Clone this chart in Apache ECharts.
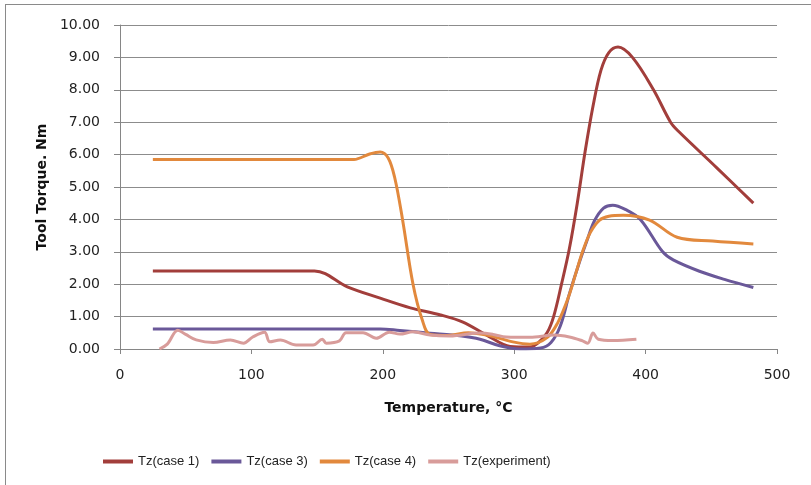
<!DOCTYPE html>
<html lang="en">
<head>
    <meta charset="UTF-8">
    <title>Tool torque vs temperature</title>
    <script src="https://cdn.jsdelivr.net/npm/echarts/dist/echarts.min.js"></script>
    <style>
        html, body { margin: 0; padding: 0; background: #fff; }
        #chart { width: 811px; height: 485px; }
    </style>
</head>
<body>
<div id="chart"></div>
<script>
    // values: [temperature, torque]
    var case1 = [[25, 2.41], [148, 2.41], [173, 1.92], [198, 1.57], [221, 1.27], [244, 1.05], [261, 0.83],
        [279, 0.43], [297, 0.08], [312, 0.06], [318, 0.18], [325, 0.5], [330, 1.0], [336, 2.0], [342, 3.1],
        [348, 4.5], [354, 6.1], [360, 7.5], [366, 8.6], [372, 9.15], [379, 9.32], [390, 9.0], [406, 8.0],
        [419, 7.0], [425, 6.72], [454, 5.6], [482, 4.5]];
    var case3 = [[25, 0.62], [198, 0.62], [213, 0.57], [236, 0.49], [260, 0.4], [274, 0.3], [289, 0.1],
        [304, 0.0], [320, 0.03], [328, 0.2], [335, 0.7], [342, 1.7], [349, 2.6], [355, 3.3], [361, 3.95],
        [368, 4.35], [375, 4.44], [385, 4.3], [396, 4.0], [413, 3.0], [421, 2.75], [441, 2.4], [460, 2.15],
        [482, 1.9]];
    var case4 = [[25, 5.85], [178, 5.85], [190, 6.02], [198, 6.08], [204, 5.9], [209, 5.3], [215, 4.0],
        [223, 2.0], [230, 0.9], [236, 0.45], [250, 0.42], [265, 0.5], [280, 0.42], [299, 0.22], [312, 0.15],
        [325, 0.35], [333, 0.8], [341, 1.57], [347, 2.35], [352, 3.0], [358, 3.6], [365, 3.98], [372, 4.1],
        [383, 4.13], [403, 3.98], [424, 3.45], [451, 3.33], [482, 3.24]];
    var experiment = [[30, 0.0], [36, 0.15], [44, 0.58], [50, 0.45], [58, 0.28], [71, 0.2], [84, 0.28],
        [94, 0.18], [101, 0.37], [110, 0.52], [114, 0.22], [122, 0.28], [134, 0.12], [147, 0.12], [154, 0.3],
        [157, 0.18], [167, 0.25], [172, 0.5], [185, 0.5], [195, 0.33], [205, 0.52], [213, 0.46], [223, 0.53],
        [236, 0.43], [251, 0.4], [274, 0.49], [284, 0.45], [294, 0.37], [312, 0.36], [330, 0.43], [342, 0.37],
        [352, 0.25], [356, 0.18], [360, 0.49], [364, 0.3], [375, 0.26], [393, 0.3]];

    var seriesNames = ['Tz(case 1)', 'Tz(case 3)', 'Tz(case 4)', 'Tz(experiment)'];
    var seriesData = [case1, case3, case4, experiment];
    var colors = ['#A23E3B', '#6A5899', '#E2893D', '#D89C9A'];

    var chart = echarts.init(document.getElementById('chart'));

    var series = seriesNames.map(function (name, i) {
        return {
            name: name,
            type: 'line',
            data: seriesData[i],
            smooth: 0.35,
            showSymbol: false,
            lineStyle: { width: 3, color: colors[i] },
            itemStyle: { color: colors[i] }
        };
    });

    chart.setOption({
        animation: false,
        textStyle: { fontFamily: 'DejaVu Sans' },
        grid: { left: 120, right: 34, top: 25, bottom: 136 },
        graphic: [
            { type: 'line', shape: { x1: 5, y1: 4.5, x2: 811, y2: 4.5 }, style: { stroke: '#8a8a8a', lineWidth: 1 } },
            { type: 'line', shape: { x1: 5.5, y1: 4, x2: 5.5, y2: 485 }, style: { stroke: '#8a8a8a', lineWidth: 1 } }
        ],
        xAxis: {
            type: 'value',
            min: 0,
            max: 500,
            interval: 100,
            name: 'Temperature, °C',
            nameLocation: 'middle',
            nameGap: 52,
            nameTextStyle: { fontFamily: 'DejaVu Sans', fontWeight: 'bold', fontSize: 14, color: '#111' },
            axisLine: { lineStyle: { color: '#868686' } },
            axisTick: { show: true, length: 5, lineStyle: { color: '#868686' } },
            axisLabel: { fontSize: 14, color: '#222', margin: 19 },
            splitLine: { show: false }
        },
        yAxis: {
            type: 'value',
            min: 0,
            max: 10,
            interval: 1,
            name: 'Tool Torque. Nm',
            nameLocation: 'middle',
            nameGap: 70,
            nameTextStyle: { fontFamily: 'DejaVu Sans', fontWeight: 'bold', fontSize: 14, color: '#111' },
            axisLine: { show: true, lineStyle: { color: '#868686' } },
            axisTick: { show: true, length: 6, lineStyle: { color: '#868686' } },
            axisLabel: {
                fontSize: 14,
                color: '#222',
                margin: 20,
                formatter: function (v) { return v.toFixed(2); }
            },
            splitLine: { lineStyle: { color: '#8c8c8c' } }
        },
        legend: {
            data: seriesNames,
            left: 98,
            top: 450,
            icon: 'rect',
            itemWidth: 30,
            itemHeight: 4,
            itemGap: 12,
            textStyle: { fontFamily: 'Liberation Sans', fontSize: 13, color: '#222' }
        },
        series: series
    });
</script>
</body>
</html>
